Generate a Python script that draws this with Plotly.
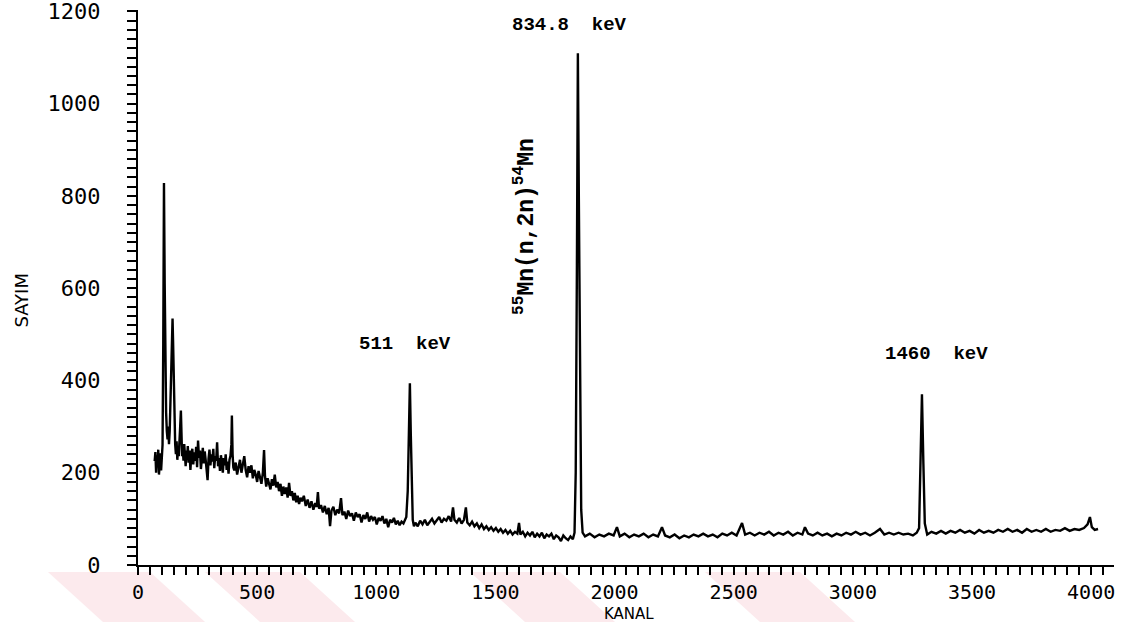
import plotly.graph_objects as go

# Gamma spectrum: counts (SAYIM) per channel (KANAL), stored region by region
# as (channel, count) pairs.

# Low-energy region with the two strong peaks near the start of the spectrum
low_peaks = [
    (70, 225), (73, 245), (76, 200), (79, 238), (82, 212), (85, 250), (88, 196),
    (91, 232), (94, 242), (97, 205), (100, 236), (103, 260), (106, 480), (109, 828),
    (112, 610), (115, 420), (118, 330), (121, 290), (124, 272), (127, 300), (130, 262),
    (133, 290), (136, 360), (139, 440), (142, 510), (145, 534), (147, 490), (150, 400),
    (153, 320), (156, 262), (159, 240), (162, 268), (165, 228), (168, 252), (171, 236),
    (174, 260), (177, 300), (180, 335), (183, 280), (185, 236), (188, 250), (191, 226),
    (194, 262), (197, 240), (200, 214), (203, 248), (206, 230), (209, 258),
]

# Compton plateau
plateau = [
    (212, 222), (216, 248), (220, 206), (224, 240), (228, 252), (232, 218), (236, 244),
    (240, 226), (244, 256), (248, 212), (252, 270), (256, 232), (260, 248), (264, 208),
    (268, 238), (272, 254), (276, 220), (280, 246), (284, 228), (288, 204), (292, 184),
    (296, 230), (300, 250), (304, 216), (308, 240), (312, 224), (316, 252), (320, 210),
    (324, 236), (328, 226), (332, 266), (336, 214), (340, 232), (344, 204), (348, 238),
    (352, 222), (356, 200), (360, 232), (364, 216), (368, 240), (372, 206), (376, 224),
    (380, 198), (384, 228), (388, 236), (392, 262), (394, 324), (397, 240), (400, 212),
]

# Falling continuum
falloff = [
    (404, 205), (410, 222), (416, 196), (422, 214), (428, 228), (434, 200), (440, 218),
    (446, 236), (452, 206), (458, 190), (464, 214), (470, 200), (476, 216), (482, 188),
    (488, 206), (494, 196), (500, 180), (506, 204), (512, 190), (518, 176), (524, 200),
    (529, 249), (533, 192), (538, 170), (544, 188), (550, 174), (556, 164), (562, 186),
    (568, 172), (574, 196), (580, 168), (586, 180), (592, 160), (598, 176), (604, 150),
    (610, 170), (616, 154), (622, 168), (628, 146), (634, 178), (640, 150), (646, 160),
    (652, 140), (658, 156), (664, 136), (670, 150), (676, 132), (682, 146),
]

# Continuum up to and including the 511 keV annihilation line
annihilation = [
    (688, 138), (696, 150), (704, 128), (712, 142), (720, 124), (728, 138), (736, 120),
    (744, 134), (750, 126), (755, 158), (760, 122), (768, 130), (776, 114), (784, 128),
    (792, 110), (800, 124), (806, 84), (812, 118), (820, 126), (828, 108), (836, 120),
    (844, 112), (852, 145), (858, 108), (866, 116), (874, 100), (882, 118), (890, 106),
    (898, 112), (906, 96), (914, 114), (922, 104), (930, 110), (938, 92), (946, 108),
    (954, 100), (962, 114), (970, 94), (978, 106), (986, 98), (994, 104), (1002, 88),
    (1010, 102), (1018, 96), (1026, 106), (1034, 90), (1042, 100), (1050, 82),
    (1058, 98), (1066, 92), (1074, 102), (1082, 88), (1090, 96), (1098, 86), (1106, 94),
    (1114, 90), (1120, 96), (1126, 104), (1132, 160), (1137, 300), (1141, 394),
    (1145, 280), (1149, 150), (1153, 98), (1158, 84),
]

# Continuum up to and including the 834.8 keV line of 54Mn
mn54 = [
    (1164, 92), (1174, 84), (1184, 96), (1194, 88), (1204, 98), (1214, 86), (1224, 94),
    (1234, 100), (1244, 90), (1254, 98), (1264, 104), (1274, 92), (1284, 100),
    (1294, 96), (1304, 106), (1314, 94), (1322, 125), (1328, 98), (1338, 92),
    (1348, 102), (1358, 90), (1368, 98), (1376, 125), (1382, 92), (1392, 86),
    (1402, 94), (1412, 84), (1422, 90), (1432, 80), (1442, 88), (1452, 78), (1462, 84),
    (1472, 76), (1482, 82), (1492, 74), (1502, 80), (1512, 72), (1522, 78), (1532, 70),
    (1542, 76), (1552, 68), (1562, 74), (1572, 66), (1582, 72), (1592, 68), (1599, 91),
    (1605, 66), (1615, 72), (1625, 62), (1635, 70), (1645, 64), (1655, 72), (1665, 60),
    (1675, 68), (1685, 62), (1695, 70), (1705, 58), (1715, 66), (1725, 62), (1735, 68),
    (1745, 56), (1755, 64), (1765, 60), (1775, 52), (1785, 64), (1795, 58), (1805, 54),
    (1815, 62), (1825, 56), (1832, 70), (1837, 200), (1842, 650), (1846, 1109),
    (1850, 800), (1855, 350), (1860, 120), (1866, 70),
]

# High-energy tail with the 1460 keV (40K) line
tail = [
    (1876, 62), (1896, 68), (1916, 60), (1936, 66), (1956, 62), (1976, 68), (1996, 64),
    (2010, 82), (2022, 62), (2042, 68), (2062, 60), (2082, 66), (2102, 62), (2122, 68),
    (2142, 60), (2162, 66), (2182, 62), (2199, 82), (2212, 64), (2232, 60), (2252, 66),
    (2272, 58), (2292, 64), (2312, 60), (2332, 66), (2352, 62), (2372, 68), (2392, 62),
    (2412, 66), (2432, 60), (2452, 68), (2472, 64), (2492, 70), (2512, 64), (2535, 91),
    (2548, 66), (2568, 70), (2588, 64), (2608, 70), (2628, 66), (2648, 72), (2668, 64),
    (2688, 70), (2708, 66), (2728, 72), (2748, 64), (2768, 70), (2788, 66), (2799, 82),
    (2812, 68), (2832, 64), (2852, 70), (2872, 64), (2892, 68), (2912, 62), (2932, 68),
    (2952, 64), (2972, 70), (2992, 66), (3012, 72), (3032, 66), (3052, 70), (3072, 64),
    (3092, 70), (3114, 78), (3132, 66), (3152, 70), (3172, 66), (3192, 70), (3212, 66),
    (3232, 68), (3252, 64), (3268, 70), (3278, 80), (3284, 250), (3290, 370),
    (3296, 220), (3302, 90), (3312, 66), (3330, 72), (3350, 68), (3370, 74), (3390, 68),
    (3410, 74), (3430, 70), (3450, 76), (3470, 70), (3490, 74), (3510, 68), (3530, 76),
    (3550, 70), (3570, 74), (3590, 70), (3610, 76), (3630, 72), (3650, 78), (3670, 72),
    (3690, 76), (3710, 70), (3730, 78), (3750, 72), (3770, 76), (3790, 72), (3810, 78),
    (3830, 72), (3850, 76), (3870, 74), (3890, 80), (3910, 74), (3930, 78), (3950, 76),
    (3970, 80), (3985, 88), (3995, 104), (4003, 82), (4015, 76), (4029, 78),
]

x_ticks = [0, 500, 1000, 1500, 2000, 2500, 3000, 3500, 4000]
y_ticks = [0, 200, 400, 600, 800, 1000, 1200]

# Peak labels: (text, channel, count position of the label)
peak_labels = [
    ("511  keV", 1120, 480),
    ("834.8  keV", 1809, 1170),
    ("1460  keV", 3349, 458),
]
reaction_label = ("<sup>55</sup>Mn(n,2n)<sup>54</sup>Mn", 1624, 735)

regions = [low_peaks, plateau, falloff, annihilation, mn54, tail]
channels = [c for region in regions for c, _ in region]
counts = [n for region in regions for _, n in region]

fig = go.Figure(
    go.Scatter(
        x=channels, y=counts, mode="lines",
        line=dict(color="black", width=2.4),
        hoverinfo="skip",
    )
)

tick_font = dict(family="DejaVu Sans Mono", size=22, color="black")
label_font = dict(family="Liberation Mono", size=19, color="black", weight="bold")

fig.update_xaxes(
    range=[0, 4096], tickmode="array", tickvals=x_ticks,
    ticktext=[str(v) for v in x_ticks],
    ticks="outside", ticklen=8, tickwidth=2, tickcolor="black",
    minor=dict(dtick=50, tick0=0, ticks="outside", ticklen=8,
               tickwidth=2, tickcolor="black"),
    showline=True, linewidth=2, linecolor="black",
    showgrid=False, zeroline=False, tickfont=dict(tick_font, size=20),
    automargin=False,
)
fig.update_yaxes(
    range=[0, 1203], tickmode="array", tickvals=y_ticks,
    ticktext=[str(v) for v in y_ticks],
    ticks="outside", ticklen=9, tickwidth=2, tickcolor="black",
    minor=dict(dtick=20, tick0=0, ticks="outside", ticklen=9,
               tickwidth=2, tickcolor="black"),
    showline=True, linewidth=2, linecolor="black",
    showgrid=False, zeroline=False, tickfont=tick_font,
    ticklabelstandoff=22, ticklabeloverflow="allow", automargin=False,
)

annotations = [
    dict(text=t, x=cx, y=cy, xref="x", yref="y", showarrow=False,
         font=label_font, xanchor="center", yanchor="middle")
    for t, cx, cy in peak_labels
]
annotations.append(
    dict(text=reaction_label[0], x=reaction_label[1], y=reaction_label[2],
         xref="x", yref="y", showarrow=False, textangle=-90,
         font=dict(label_font, size=23), xanchor="center", yanchor="middle")
)
annotations.append(
    dict(text="SAYIM", x=-0.119, y=0.478, xref="paper", yref="paper",
         showarrow=False, textangle=-90,
         font=dict(family="DejaVu Sans", size=18, color="black"),
         xanchor="center", yanchor="middle")
)
annotations.append(
    dict(text="KANAL", x=0.503, y=-0.089, xref="paper", yref="paper",
         showarrow=False,
         font=dict(family="DejaVu Sans", size=15, color="black"),
         xanchor="center", yanchor="middle")
)

# Faint pink diagonal bands along the bottom edge of the page
band_tops = [(48, 150), (205, 300), (470, 560), (705, 800)]
shapes = []
for a, b in band_tops:
    def px(v):
        return (v - 138) / 976
    y_top, y_bot = (565 - 572) / 555, (565 - 622) / 555
    path = (f"M {px(a)},{y_top} L {px(b)},{y_top} "
            f"L {px(b + 55)},{y_bot} L {px(a + 55)},{y_bot} Z")
    shapes.append(dict(type="path", path=path, xref="paper", yref="paper",
                       fillcolor="#FCEAED", line=dict(width=0), layer="below"))

fig.update_layout(
    width=1134, height=622,
    margin=dict(l=138, r=20, t=10, b=57, autoexpand=False),
    plot_bgcolor="white", paper_bgcolor="white",
    showlegend=False,
    annotations=annotations,
    shapes=shapes,
)

fig.write_html("out.html")
